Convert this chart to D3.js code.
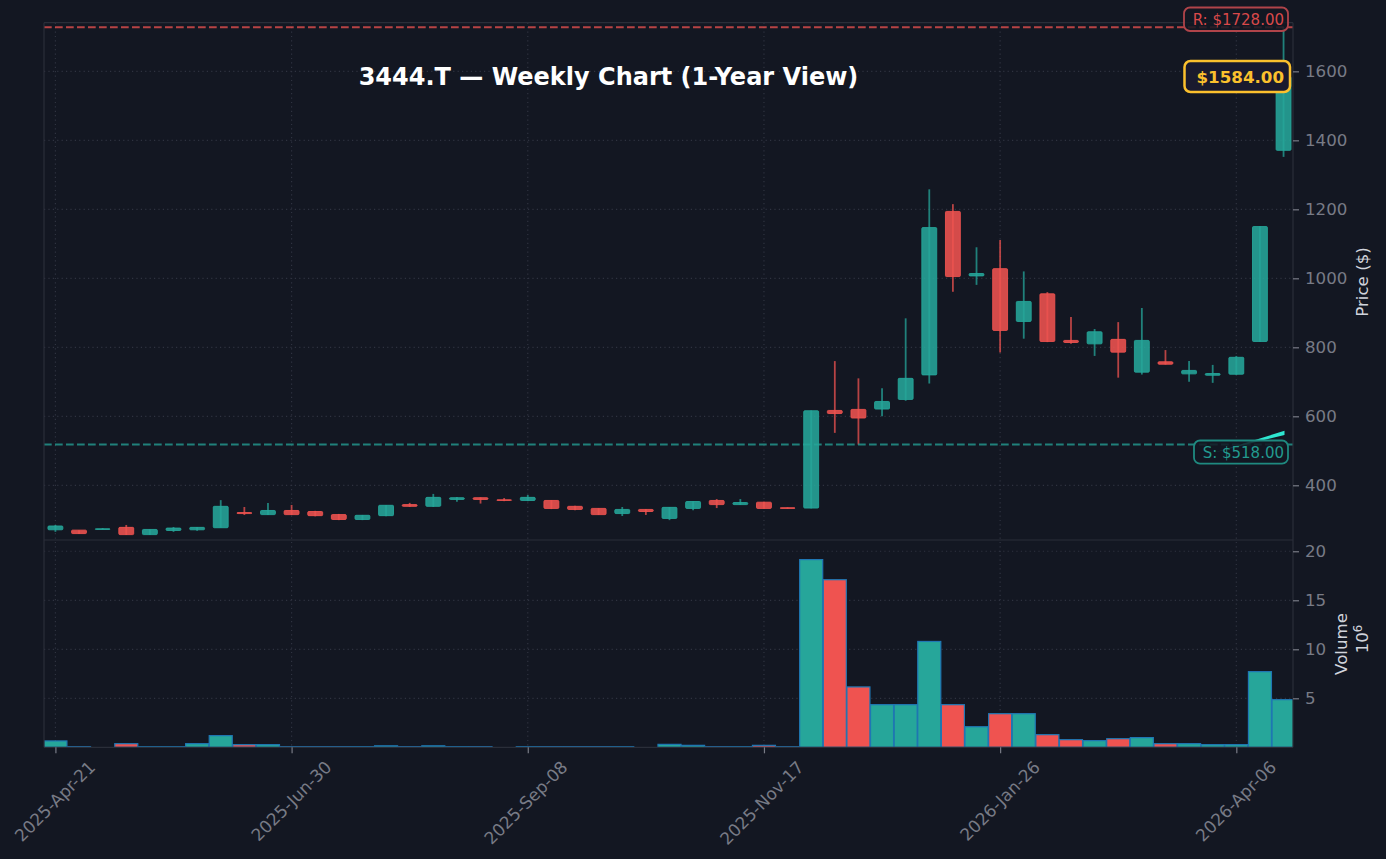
<!DOCTYPE html>
<meta charset="utf-8">
<style>
  html, body { margin: 0; background: #131722; overflow: hidden; }
  text { font-family: "DejaVu Sans", sans-serif; }
</style>

<!-- Load d3.js -->
<script src="https://d3js.org/d3.v7.min.js"></script>

<div id="my_dataviz"></div>

<script>

// weekly candles, index 0 = 2025-Apr-21
var opens  = [271,270,272,278,257,269,271,277,321,315,327,324,315,301,312,344,339,359,364,358,356,356,339,333,318,330,304,333,356,344,351,335,334,617,620,621,649,720,1194,1007,1028,875,955,820,810,823,728,758,723,719,722,817,1371];
var highs  = [285,270,276,285,272,279,279,357,337,349,343,326,317,314,343,349,375,366,365,363,372,357,341,334,337,331,337,354,360,360,352,336,617,760,710,681,884,1258,1215,1090,1111,1020,960,888,853,873,914,792,760,749,775,1151,1728];
var lows   = [265,259,272,256,256,265,268,277,314,314,314,310,299,299,310,337,337,352,347,354,354,331,328,314,311,314,299,328,334,343,332,332,333,552,518,600,645,695,961,981,785,825,815,810,775,712,721,750,700,697,720,816,1352];
var closes = [282,260,274,257,272,276,278,339,318,327,315,312,301,313,342,339,365,364,359,356,365,333,330,315,330,324,336,353,344,350,333,333,616,608,595,643,710,1147,1005,1014,849,933,817,814,845,786,820,751,733,724,771,1150,1584];

// volume in millions
var volumes = [0.65,0.06,0,0.37,0.06,0.06,0.37,1.19,0.27,0.27,0.06,0.06,0.06,0.06,0.15,0.06,0.15,0.06,0.06,0,0.06,0.06,0.06,0.06,0.06,0,0.3,0.2,0.06,0.06,0.2,0.06,19.15,17.1,6.16,4.35,4.35,10.8,4.35,2.1,3.43,3.43,1.29,0.78,0.68,0.88,0.99,0.37,0.37,0.27,0.27,7.72,4.86];

var xTickIndex = [0,10,20,30,40,50];
var xTickLabels = ["2025-Apr-21","2025-Jun-30","2025-Sep-08","2025-Nov-17","2026-Jan-26","2026-Apr-06"];
var priceTicks = [400,600,800,1000,1200,1400,1600];
var volumeTicks = [5,10,15,20];

var resistance = 1728;
var support = 518;
var lastPrice = 1584;

// the small wedge that runs out from behind the support label
var wedgeIndex = [49.03,52.04,52.04];
var wedgeValue = [494,558,546];

var upColor = "#26a69a", downColor = "#ef5350";
var bg = "#131722", gridColor = "#2a2e39", tickColor = "#787b86", labelColor = "#d1d4dc";

var width = 1386, height = 859;
var left = 44, right = 1293, priceTop = 22.7, priceBottom = 540, volBottom = 747.3;

var svg = d3.select("#my_dataviz")
  .append("svg")
    .attr("width", width)
    .attr("height", height)
    .style("display", "block");

var x = d3.scaleLinear().domain([-0.483, 52.4]).range([left, right]);
var y = d3.scaleLinear().domain([241.4, 1741]).range([priceBottom, priceTop]);
var yVol = d3.scaleLinear().domain([0, 21.15]).range([volBottom, priceBottom]);

function candleColor(i) { return closes[i] >= opens[i] ? upColor : downColor; }

svg.append("clipPath").attr("id", "pane")
  .append("rect").attr("x", left).attr("y", priceTop).attr("width", right - left).attr("height", volBottom - priceTop);

// grid
var grid = svg.append("g").attr("stroke", "#2f3340").attr("stroke-width", 1.2).attr("stroke-dasharray", "1.2,3.2");
grid.selectAll(".gx").data(xTickIndex).enter().append("line")
  .attr("x1", function(d) { return x(d); }).attr("x2", function(d) { return x(d); })
  .attr("y1", priceTop).attr("y2", volBottom);
grid.selectAll(".gy").data(priceTicks).enter().append("line")
  .attr("x1", left).attr("x2", right)
  .attr("y1", function(d) { return y(d); }).attr("y2", function(d) { return y(d); });
grid.selectAll(".gv").data(volumeTicks).enter().append("line")
  .attr("x1", left).attr("x2", right)
  .attr("y1", function(d) { return yVol(d); }).attr("y2", function(d) { return yVol(d); });

// volume bars
var barWidth = x(0.975) - x(0);
var withVolume = d3.range(volumes.length).filter(function(i) { return volumes[i] > 0; });
svg.append("g").attr("clip-path", "url(#pane)")
  .selectAll("rect").data(withVolume).enter().append("rect")
    .attr("x", function(i) { return x(i) - barWidth / 2; })
    .attr("width", barWidth)
    .attr("y", function(i) { return yVol(volumes[i]); })
    .attr("height", function(i) { return yVol(0) - yVol(volumes[i]); })
    .attr("fill", function(i) { return candleColor(i); })
    .attr("stroke", "#1f77b4")
    .attr("stroke-width", 1.2);

// candles
var bodyWidth = x(0.63) - x(0);
var candles = svg.append("g").selectAll("g").data(opens).enter().append("g");
candles.append("line")
  .attr("x1", function(d, i) { return x(i); }).attr("x2", function(d, i) { return x(i); })
  .attr("y1", function(d, i) { return y(highs[i]); })
  .attr("y2", function(d, i) { return y(lows[i]); })
  .attr("stroke", function(d, i) { return candleColor(i); })
  .attr("stroke-opacity", 0.75)
  .attr("stroke-width", 1.8);
candles.append("rect")
  .attr("x", function(d, i) { return x(i) - bodyWidth / 2; })
  .attr("width", bodyWidth)
  .attr("y", function(d, i) { return y(Math.max(opens[i], closes[i])); })
  .attr("height", function(d, i) { return Math.abs(y(opens[i]) - y(closes[i])); })
  .attr("rx", 1)
  .attr("fill", function(d, i) { return candleColor(i); })
  .attr("fill-opacity", 0.88)
  .attr("stroke", function(d, i) { return candleColor(i); })
  .attr("stroke-opacity", 0.88)
  .attr("stroke-width", 1);

// support / resistance
function levelLine(v, color) {
  svg.append("line")
    .attr("x1", left).attr("x2", right)
    .attr("y1", y(v)).attr("y2", y(v))
    .attr("stroke", color)
    .attr("stroke-opacity", 0.75)
    .attr("stroke-width", 2)
    .attr("stroke-dasharray", "7.7,3.3");
}
levelLine(resistance, downColor);
levelLine(support, upColor);

svg.append("path")
  .attr("d", d3.line()
    .x(function(d, i) { return x(wedgeIndex[i]); })
    .y(function(d) { return y(d); })
    .curve(d3.curveLinearClosed)(wedgeValue))
  .attr("fill", "#2ee6d0");

// spines
var spines = svg.append("g").attr("stroke", gridColor).attr("stroke-width", 1.2);
[[left, priceTop, right, priceTop], [left, priceBottom, right, priceBottom], [left, volBottom, right, volBottom],
 [left, priceTop, left, volBottom], [right, priceTop, right, volBottom]].forEach(function(s) {
  spines.append("line").attr("x1", s[0]).attr("y1", s[1]).attr("x2", s[2]).attr("y2", s[3]);
});

// axes
function styleAxis(g) {
  g.select(".domain").remove();
  g.selectAll(".tick line").attr("stroke", tickColor).attr("stroke-width", 1.2);
  g.selectAll(".tick text").attr("fill", tickColor).style("font-size", "16.67px").style("font-family", "DejaVu Sans");
}
svg.append("g").attr("transform", "translate(" + right + ",0)")
  .call(d3.axisRight(y).tickValues(priceTicks).tickSize(6).tickPadding(6).tickFormat(d3.format("d")))
  .call(styleAxis);
svg.append("g").attr("transform", "translate(" + right + ",0)")
  .call(d3.axisRight(yVol).tickValues(volumeTicks).tickSize(6).tickPadding(6).tickFormat(d3.format("d")))
  .call(styleAxis);
svg.append("g").attr("transform", "translate(0," + volBottom + ")")
  .call(d3.axisBottom(x).tickValues(xTickIndex).tickSize(6)
    .tickFormat(function(d, i) { return xTickLabels[i]; }))
  .call(styleAxis)
  .selectAll(".tick text")
    .attr("text-anchor", "end")
    .attr("dy", null)
    .attr("y", 0)
    .style("font-size", "17px")
    .attr("transform", "translate(40.5,21) rotate(-45)");

// axis labels
svg.append("text").attr("transform", "translate(1368,282) rotate(-90)")
  .attr("text-anchor", "middle").attr("fill", labelColor).style("font-size", "16.67px").text("Price ($)");
svg.append("text").attr("transform", "translate(1347,644) rotate(-90)")
  .attr("text-anchor", "middle").attr("fill", labelColor).style("font-size", "16.67px").text("Volume");
var offset = svg.append("text").attr("transform", "translate(1368,639) rotate(-90)")
  .attr("text-anchor", "middle").attr("fill", labelColor).style("font-size", "16.67px");
offset.append("tspan").text("10");
offset.append("tspan").attr("dy", -6).style("font-size", "11.7px").text("6");

// title
svg.append("text")
  .attr("x", 608.5).attr("y", 85)
  .attr("text-anchor", "middle")
  .attr("fill", "#ffffff")
  .style("font-size", "24px")
  .style("font-weight", "bold")
  .text("3444.T \u2014 Weekly Chart (1-Year View)");

// value badges
function badge(x0, x1, y0, y1, stroke, fill, strokeWidth, label, textColor, size, weight, opacity) {
  svg.append("rect")
    .attr("x", x0).attr("y", y0).attr("width", x1 - x0).attr("height", y1 - y0)
    .attr("rx", 6)
    .attr("fill", fill)
    .attr("fill-opacity", opacity)
    .attr("stroke", stroke)
    .attr("stroke-width", strokeWidth);
  svg.append("text")
    .attr("x", 1284).attr("y", (y0 + y1) / 2).attr("dy", "0.36em")
    .attr("text-anchor", "end")
    .attr("fill", textColor)
    .style("font-size", size)
    .style("font-weight", weight)
    .text(label);
}
badge(1184, 1288, 7.5, 31, "#b0444a", bg, 1.8, "R: $" + resistance.toFixed(2), "#d9494a", "15px", "normal", 0.85);
badge(1194, 1288, 440.5, 463.7, "#1f8a80", bg, 1.8, "S: $" + support.toFixed(2), "#229a8f", "15px", "normal", 0.85);
badge(1184.5, 1290, 61, 92, "#fbc02d", "#1a1a2e", 2.5, "$" + lastPrice.toFixed(2), "#fbc02d", "16.67px", "bold", 1);

</script>
